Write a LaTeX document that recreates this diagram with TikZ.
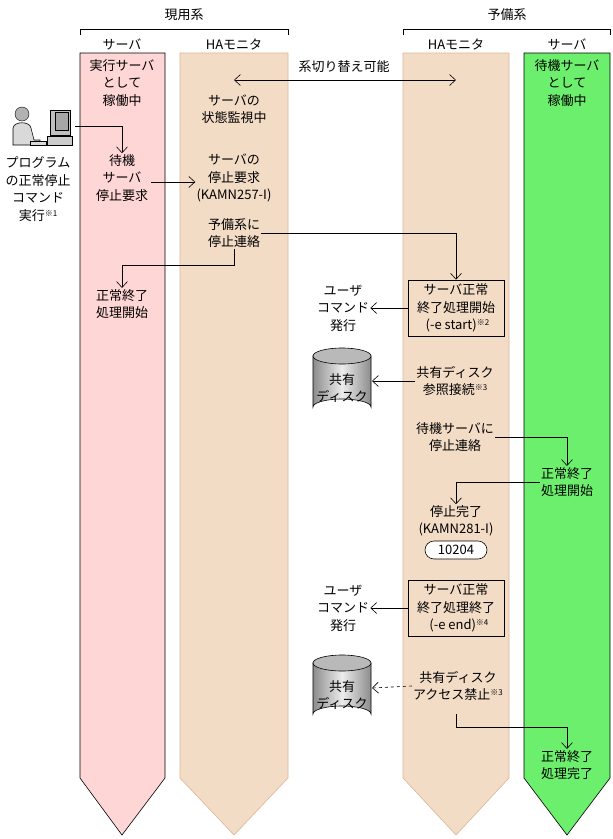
\documentclass[tikz,border=0pt]{standalone}
\usepackage{fontspec}
\setmainfont{Noto Sans CJK JP}
\usetikzlibrary{arrows.meta}
\definecolor{pinkc}{HTML}{FFD6D6}
\definecolor{peach}{HTML}{F3DCC6}
\definecolor{peachb}{HTML}{DDB596}
\definecolor{greenc}{HTML}{6CEF6C}
\newcommand{\sref}[1]{\raisebox{4pt}{\fontsize{8}{8}\selectfont ※#1}}
\begin{document}
\begin{tikzpicture}[x=1pt,y=-1pt,line width=0.6pt,
  txt/.style={align=center,inner sep=1pt,font=\fontsize{13}{17.5}\selectfont},
  arr/.style={draw=black,-{Straight Barb[length=6pt,width=11pt]}},
  box/.style={draw=black,fill=peach,minimum width=96pt,minimum height=56pt,inner sep=0pt,align=center,font=\fontsize{13}{17.5}\selectfont}]
\useasboundingbox (0,0) rectangle (613,839);
\fill[white] (0,0) rectangle (613,839);
% lanes
\draw[fill=pinkc] (80,53) -- (165,53) -- (165,778) -- (122,835) -- (80,778) -- cycle;
\draw[fill=peach,draw=peachb] (180,53) -- (288,53) -- (288,778) -- (234,835) -- (180,778) -- cycle;
\draw[fill=peach,draw=peachb] (403,53) -- (509,53) -- (509,778) -- (456,835) -- (403,778) -- cycle;
\draw[fill=greenc] (524,53) -- (610,53) -- (610,778) -- (567,835) -- (524,778) -- cycle;
% brackets
\draw (80,35) -- (80,29) -- (288,29) -- (288,35);
\draw (403,35) -- (403,29) -- (610,29) -- (610,35);
\node[txt] (g1) at (184,15) {現用系};
\node[txt] (g2) at (507,15) {予備系};
\node[txt] (h1) at (122,44) {サーバ};
\node[txt] (h2) at (234,44) {HAモニタ};
\node[txt] (h3) at (456,44) {HAモニタ};
\node[txt] (h4) at (567,44) {サーバ};
% texts
\node[txt] (a1) at (122,83) {実行サーバ\\として\\稼働中};
\node[txt] (d1) at (567,83) {待機サーバ\\として\\稼働中};
\node[txt] (b1) at (234,109) {サーバの\\状態監視中};
\node[txt] (sw) at (344,67) {系切り替え可能};
\coordinate (swl) at (234,80); \coordinate (swr) at (456,80);
\draw[arr,{Straight Barb[length=6pt,width=11pt]}-{Straight Barb[length=6pt,width=11pt]}] (swl) -- (swr);
% person
\begin{scope}
\fill[gray!60,draw=black,line width=0.4pt] (22,114) circle (7);
\draw[fill=gray!30] (13,145) -- (13,128) .. controls (14,121) and (30,121) .. (31,128) -- (34,140) -- (40,140) -- (40,145) -- cycle;
\draw[fill=gray!50] (50,110) rectangle (70,135);
\draw[fill=gray!70] (55,112) rectangle (68,130);
\draw[fill=gray!40] (47,136) rectangle (72,145);
\draw[fill=gray!30] (30,141) rectangle (46,145);
\end{scope}
\node[txt] (p) at (38,189) {プログラム\\の正常停止\\コマンド\\実行\sref{1}};
\coordinate (pc) at (75,126);
\node[txt] (a2) at (122,178) {待機\\サーバ\\停止要求};
\draw[arr] (pc) -| (a2.north);
\node[txt] (b2) at (234,178) {サーバの\\停止要求\\(KAMN257-I)};
\draw[arr] (a2.east) ++(2,4) coordinate (a2e) -- (b2.west |- a2e);
\node[txt] (b3) at (234,233) {予備系に\\停止連絡};
\node[txt] (a3) at (122,304) {正常終了\\処理開始};
\node[box] (c1) at (456,308) {サーバ正常\\終了処理開始\\\ (-e start)\sref{2}};
\draw[arr] (b3.east) -| (c1.north);
\draw[arr] (b3.south) |- (122,265) -- (a3.north);
\node[txt] (u1) at (343,308) {ユーザ\\コマンド\\発行};
\draw[arr] (c1.west) -- (u1.east);
% cylinders
\foreach \n/\y in {k1/348,k2/655}{
  \shade[left color=gray!90,right color=gray!90,middle color=gray!15,draw=black] (313,\y+8) -- (313,\y+59) arc[start angle=180,end angle=360,x radius=29,y radius=8] -- (371,\y+8) -- cycle;
  \draw[fill=gray!55] (342,\y+8) ellipse[x radius=29,y radius=8];
  \node[txt] (\n) at (342,\y+40) {共有\\ディスク};
}
\node[txt] (c2) at (455,381) {共有ディスク\\参照接続\sref{3}};
\draw[arr] (c2.west) -- (372,381);
\node[txt] (c3) at (455,437) {待機サーバに\\停止連絡};
\node[txt] (d2) at (567,482) {正常終了\\処理開始};
\draw[arr] (c3.east) -| (d2.north);
\node[txt] (c4) at (456,521) {停止完了\\(KAMN281-I)};
\draw[arr] (d2.west) -| (c4.north);
\node[draw=black,fill=white,rounded corners=9pt,minimum width=62pt,minimum height=18pt,inner sep=0pt,font=\fontsize{13}{14}\selectfont] (m) at (456,550) {10204};
\node[box] (c5) at (456,608) {サーバ正常\\終了処理終了\\\ \ (-e end)\sref{4}};
\node[txt] (u2) at (343,608) {ユーザ\\コマンド\\発行};
\draw[arr] (c5.west) -- (u2.east);
\node[txt] (c6) at (458,686) {共有ディスク\\アクセス禁止\sref{3}};
\draw[arr,dashed] (c6.west) -- (372,688);
\node[txt] (d3) at (567,765) {正常終了\\処理完了};
\draw[arr] (456,714) |- (567,727) -- (d3.north);
\end{tikzpicture}
\end{document}
